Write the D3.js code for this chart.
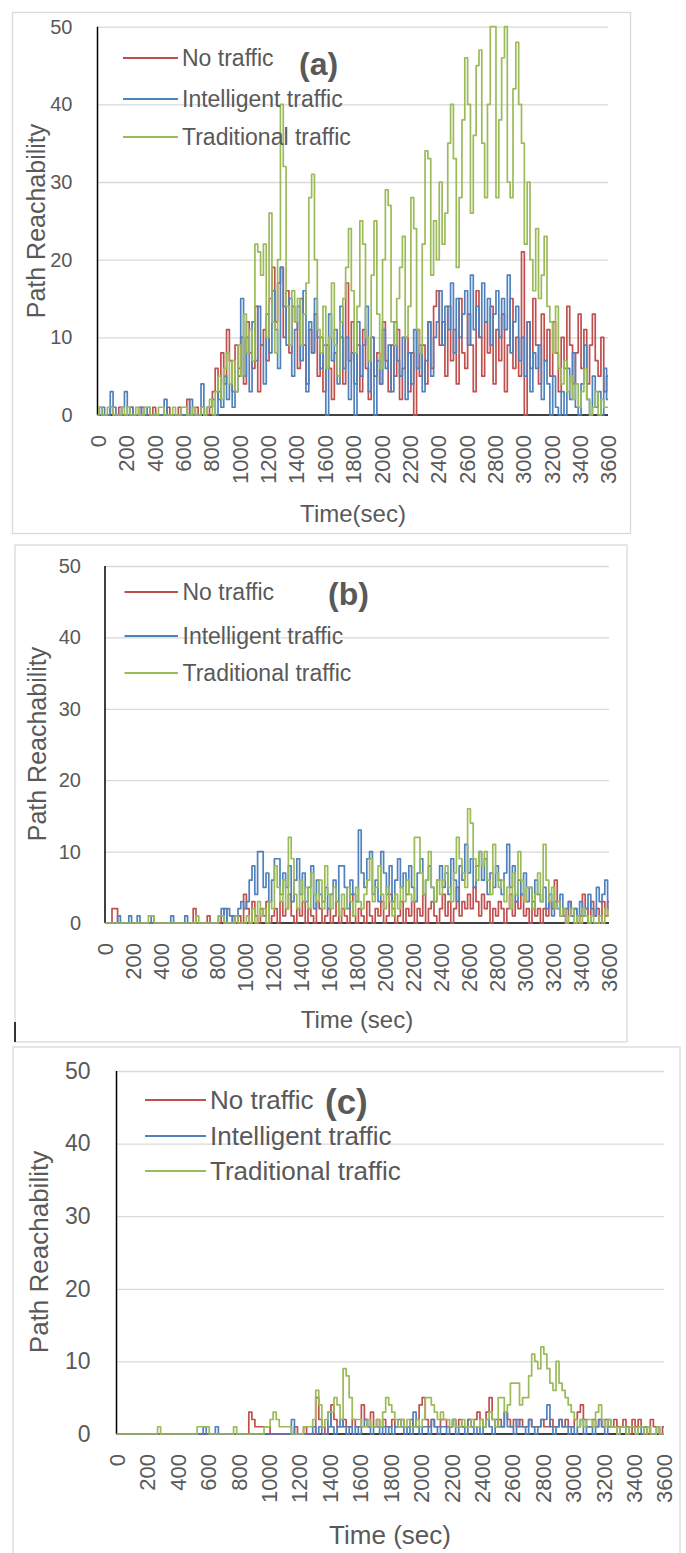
<!DOCTYPE html>
<html>
<head>
<meta charset="utf-8">
<script src="https://cdn.jsdelivr.net/npm/d3@7"></script>
<style>
  body { margin: 0; background: #fff; }
  svg text { font-family: "Liberation Sans", Arial, sans-serif; fill: #595959; }
</style>
</head>
<body>
<svg width="686" height="1553"></svg>
<script>
// tick labels
var timeTicks = [0, 200, 400, 600, 800, 1000, 1200, 1400, 1600, 1800, 2000,
                 2200, 2400, 2600, 2800, 3000, 3200, 3400, 3600];
var yTicks = [0, 10, 20, 30, 40, 50];
var seriesNames = ["No traffic", "Intelligent traffic", "Traditional traffic"];
var seriesColors = ["#c0504d", "#4f81bd", "#9bbb59"];

// sample times, one value every 20 s
var times = d3.range(0, 3601, 20);

// (a)
var noTrafficA = [0,1,0,0,0,1,0,0,1,0, 0,0,1,0,0,0,1,0,0,0, 1,0,0,0,0,1,0,0,0,1, 0,0,2,0,0,1,0,1,0,0,
  1,3,6,2,8,4,11,7,3,9, 5,10,4,12,8,6,14,3,9,11, 7,15,19,12,17,19,10,16,8,14, 12,6,15,9,4,11,8,13,5,10,
  3,9,6,2,8,5,10,4,17,7, 12,4,9,3,11,6,2,10,5,8, 4,12,7,3,9,5,11,2,6,10, 3,8,0,11,5,9,4,12,6,14,
  16,9,12,5,14,7,11,4,15,8, 6,13,9,3,16,10,5,12,8,14, 4,11,7,13,3,9,15,6,10,5, 21,0,12,6,15,9,4,13,7,11,
  5,12,8,3,10,6,14,9,4,8, 13,6,11,4,9,13,7,5,10,3,5];
var intelligentA = [0,0,1,0,0,3,1,0,0,1, 3,0,1,0,0,1,0,0,1,0, 0,0,0,0,2,0,0,0,0,0, 0,0,0,2,0,0,0,4,0,1,
  1,2,0,3,1,5,2,4,1,3, 6,15,5,10,3,12,7,14,9,4, 13,8,16,11,6,19,14,9,15,5, 11,14,7,16,3,12,8,15,10,6,
  9,0,13,7,11,4,14,6,10,2, 8,0,12,5,9,14,3,10,0,7, 4,11,6,9,3,12,7,5,10,2, 8,4,11,6,9,3,7,12,5,10,
  12,16,9,14,11,17,8,15,10,13, 16,9,18,11,14,10,17,12,15,9, 13,16,10,15,11,18,8,12,14,7, 10,5,12,3,8,6,9,2,7,4,
  0,5,1,0,3,0,6,2,8,1, 0,4,9,2,0,5,1,3,0,6,2];
var traditionalA = [0,1,0,0,1,1,0,0,0,1, 0,1,0,0,1,0,0,1,1,0, 0,0,1,1,0,0,0,1,0,0, 1,1,0,0,1,0,0,1,0,1,
  2,0,3,5,2,6,8,4,7,3, 9,5,13,8,11,7,22,21,18,22, 10,26,12,8,20,40,32,14,9,16, 12,15,9,13,17,28,31,20,11,8,
  14,6,10,17,9,5,12,15,19,24, 16,8,14,25,22,10,7,18,25,13, 6,20,29,27,12,9,15,19,23,10, 14,28,24,11,8,22,34,33,18,25,
  20,30,22,26,35,40,33,19,28,38, 46,40,26,36,45,47,35,28,40,50, 50,28,38,46,50,30,28,42,48,40, 35,22,30,20,16,24,15,18,23,14,
  12,8,14,6,4,7,3,5,2,4, 1,3,6,2,0,1,3,0,2,1,1];

// (b)
var noTrafficB = [0,0,0,2,2,0,0,0,0,0, 0,0,0,0,0,0,0,0,0,0, 0,0,0,0,0,0,0,0,0,0, 0,0,2,0,0,0,0,1,0,0,
  0,0,1,2,0,0,1,0,1,0, 4,2,0,3,1,0,2,1,3,0, 1,2,0,3,1,2,4,1,0,2, 1,3,0,2,1,0,3,2,0,1,
  2,0,1,3,0,2,1,0,4,1, 0,2,1,0,3,1,0,2,1,3, 0,1,4,2,0,1,3,0,2,1, 3,0,2,1,4,0,2,3,1,0,
  2,4,1,3,0,2,5,1,3,2, 4,2,5,3,1,4,2,3,0,2, 1,3,2,0,2,4,1,3,2,4, 1,2,0,3,1,2,0,2,1,3,
  2,6,3,1,2,0,3,1,2,0, 1,4,2,0,3,1,2,0,3,1,3];
var intelligentB = [0,0,0,0,0,1,0,0,0,1, 0,0,1,0,0,0,0,1,0,0, 0,0,0,0,1,0,0,0,0,1, 0,0,0,0,0,0,0,0,0,0,
  0,1,2,0,2,1,0,1,2,3, 2,3,6,8,4,10,10,5,7,3, 6,9,9,4,7,5,8,3,6,9, 4,7,3,5,8,2,6,4,3,5,
  2,4,6,3,8,8,5,2,6,4, 3,13,7,5,9,10,4,6,3,10, 7,4,8,3,6,9,5,7,4,8, 5,3,7,9,4,6,8,5,3,6,
  8,5,7,4,9,6,3,8,6,11, 7,9,5,8,10,6,9,4,7,5, 8,6,4,7,11,5,8,3,6,4, 7,3,5,2,6,4,3,5,2,4,
  1,3,2,4,1,2,3,1,2,1, 3,1,2,4,2,1,5,3,4,6,2];
var traditionalB = [0,0,0,0,0,0,0,0,0,0, 0,0,0,0,0,0,1,1,0,0, 0,0,0,0,0,0,0,0,0,0, 0,0,0,1,0,0,0,0,0,0,
  0,1,1,0,0,0,0,1,0,0, 0,1,0,2,0,3,1,2,0,3, 2,8,5,3,6,2,12,9,4,2, 6,3,5,2,7,4,3,6,2,8,
  4,2,5,3,1,4,2,5,3,1, 5,3,2,4,6,9,3,5,8,4, 2,5,3,1,4,2,5,3,6,4, 3,12,12,7,4,6,10,5,3,6,
  4,6,8,5,3,7,12,9,7,5, 16,14,9,6,10,8,10,6,4,11, 7,5,6,3,5,2,7,4,10,6, 3,5,5,2,4,7,3,11,6,3,
  5,2,3,1,2,0,1,2,0,1, 0,2,1,0,1,0,0,1,0,2,1];

// (c)
var noTrafficC = [0,0,0,0,0,0,0,0,0,0, 0,0,0,0,0,0,0,0,0,0, 0,0,0,0,0,0,0,0,0,0, 0,0,0,0,0,0,0,0,0,0,
  0,0,0,0,3,2,1,1,1,1, 1,0,0,0,0,0,0,0,0,1, 0,0,1,0,0,0,5,2,1,0, 1,4,2,1,1,2,1,1,2,1,
  1,4,2,1,3,1,2,1,2,1, 1,2,1,1,2,1,1,2,1,2, 4,5,2,1,2,1,1,2,2,1, 1,2,1,2,1,1,2,1,2,3,
  2,1,3,5,2,1,2,1,3,2, 1,2,1,2,1,1,2,1,1,1, 2,1,1,2,1,1,2,1,2,1, 1,2,3,4,2,1,1,2,1,2,
  1,2,1,1,2,1,1,2,1,0, 2,1,2,1,1,0,2,1,1,0,1];
var intelligentC = [0,0,0,0,0,0,0,0,0,0, 0,0,0,0,0,0,0,0,0,0, 0,0,0,0,0,0,0,0,0,1, 0,0,0,1,0,0,0,0,0,0,
  0,0,0,0,0,0,0,0,0,0, 0,0,0,0,0,0,0,0,2,0, 0,0,0,0,0,1,0,1,0,0, 3,1,0,1,2,1,0,1,0,1,
  0,1,2,1,0,1,1,0,1,0, 1,0,1,2,1,0,1,0,3,1, 0,1,1,0,2,1,0,1,1,0, 1,2,0,1,1,0,2,1,0,1,
  0,1,2,1,0,2,1,1,3,1, 1,0,2,1,1,0,2,1,0,1, 2,2,4,1,0,1,2,1,1,0, 1,0,1,2,0,1,1,0,1,2,
  1,0,2,1,1,0,1,1,0,1, 1,0,1,0,1,1,0,0,1,0,0];
var traditionalC = [0,0,0,0,0,0,0,0,0,0, 0,0,0,0,1,0,0,0,0,0, 0,0,0,0,0,0,0,1,1,1, 1,0,0,0,0,0,0,0,0,1,
  0,0,0,0,0,0,0,0,0,1, 1,2,3,2,1,1,1,1,0,0, 0,0,1,1,1,2,6,4,1,2, 3,3,5,4,2,9,8,5,2,2,
  2,1,1,2,1,1,2,1,3,5, 4,3,2,1,2,1,2,1,1,2, 1,2,5,5,4,3,2,3,2,2, 1,2,1,1,2,1,1,2,1,1,
  2,1,2,3,2,1,5,5,3,4, 7,7,7,4,5,5,8,11,10,9, 12,11,9,7,6,10,7,6,5,4, 3,2,1,2,1,2,2,1,3,4,
  2,1,2,1,1,0,1,1,0,1, 1,0,1,1,0,1,0,0,1,0,0];

// layout of the three stacked charts
var panels = [
  {tag: "(a)", series: [noTrafficA, intelligentA, traditionalA], xTitle: "Time(sec)",
   box: [12.5, 12.5, 618, 521], plot: {l: 97.5, r: 608, t: 26.7, b: 415},
   leg: {x1: 123, x2: 178, tx: 182, ys: [58, 99, 137], size: 23},
   tagPos: [299, 63], tagSize: 32, yTick: 20, yPad: 25, xTick: 22,
   yTitlePos: [45, 221], yTitleSize: 25, xTitlePos: [353, 522], xTitleSize: 24},
  {tag: "(b)", series: [noTrafficB, intelligentB, traditionalB], xTitle: "Time (sec)",
   box: [15, 545, 612, 497], plot: {l: 105, r: 609, t: 566, b: 923},
   leg: {x1: 124.5, x2: 178, tx: 182.5, ys: [592, 636, 673], size: 23},
   tagPos: [328, 593], tagSize: 32, yTick: 20, yPad: 24, xTick: 22,
   yTitlePos: [46, 744], yTitleSize: 25, xTitlePos: [357, 1028], xTitleSize: 24},
  {tag: "(c)", series: [noTrafficC, intelligentC, traditionalC], xTitle: "Time (sec)",
   box: [13, 1047, 667, 520], plot: {l: 116.5, r: 664, t: 1071, b: 1434},
   leg: {x1: 145, x2: 206, tx: 210, ys: [1100, 1136, 1171], size: 26},
   tagPos: [325, 1101], tagSize: 35, yTick: 23, yPad: 26, xTick: 22,
   yTitlePos: [48, 1252], yTitleSize: 26, xTitlePos: [390, 1544], xTitleSize: 26}
];

var svg = d3.select("svg");

panels.forEach(function(p) {
  var g = svg.append("g");

  // frame around each chart
  g.append("rect")
    .attr("x", p.box[0]).attr("y", p.box[1])
    .attr("width", p.box[2]).attr("height", p.box[3])
    .attr("fill", "none").attr("stroke", "#d9d9d9").attr("stroke-width", 1.3);

  var x = d3.scaleLinear().domain([0, 3600]).range([p.plot.l, p.plot.r]);
  var y = d3.scaleLinear().domain([0, 50]).range([p.plot.b, p.plot.t]);

  // gridlines
  g.append("g")
    .attr("transform", "translate(" + p.plot.l + ",0)")
    .call(d3.axisLeft(y).tickValues(yTicks.slice(1)).tickSize(-(p.plot.r - p.plot.l)).tickFormat(""))
    .call(s => s.select(".domain").remove())
    .selectAll("line").attr("stroke", "#d9d9d9").attr("stroke-width", 1.3);

  // y axis labels
  g.append("g")
    .attr("transform", "translate(" + p.plot.l + ",0)")
    .call(d3.axisLeft(y).tickValues(yTicks).tickSize(0).tickPadding(p.yPad))
    .call(s => s.select(".domain").remove())
    .selectAll("text")
    .style("font-size", p.yTick + "px");

  // x axis labels, rotated
  g.append("g")
    .attr("transform", "translate(0," + p.plot.b + ")")
    .call(d3.axisBottom(x).tickValues(timeTicks).tickSize(0).tickFormat(d3.format("d")))
    .call(s => s.select(".domain").remove())
    .selectAll("text")
    .attr("transform", "rotate(-90)")
    .attr("x", -20).attr("y", 0).attr("dy", "0.36em")
    .attr("text-anchor", "end")
    .style("font-size", p.xTick + "px");

  // black axis lines
  g.append("line")
    .attr("x1", p.plot.l).attr("x2", p.plot.r)
    .attr("y1", y(0)).attr("y2", y(0))
    .attr("stroke", "#000").attr("stroke-width", 1.5);
  g.append("line")
    .attr("x1", p.plot.l).attr("x2", p.plot.l)
    .attr("y1", y(50)).attr("y2", y(0))
    .attr("stroke", "#000").attr("stroke-width", 1.5);

  // the series (dense integer samples look blocky in the original)
  var line = d3.line()
    .curve(d3.curveStep)
    .x((d, i) => x(times[i]))
    .y(d => y(d));
  p.series.forEach(function(s, k) {
    g.append("path")
      .datum(s)
      .attr("d", line)
      .attr("fill", "none")
      .attr("stroke", seriesColors[k])
      .attr("stroke-width", 1.7)
      .attr("stroke-linejoin", "round");
  });

  // legend
  seriesNames.forEach(function(name, k) {
    g.append("line")
      .attr("x1", p.leg.x1).attr("x2", p.leg.x2)
      .attr("y1", p.leg.ys[k]).attr("y2", p.leg.ys[k])
      .attr("stroke", seriesColors[k]).attr("stroke-width", 2);
    g.append("text")
      .attr("x", p.leg.tx).attr("y", p.leg.ys[k])
      .attr("dy", "0.36em")
      .style("font-size", p.leg.size + "px")
      .text(name);
  });

  g.append("text")
    .attr("x", p.tagPos[0]).attr("y", p.tagPos[1])
    .attr("dy", "0.36em")
    .style("font-size", p.tagSize + "px")
    .style("font-weight", "bold")
    .text(p.tag);

  // axis titles
  g.append("text")
    .attr("transform", "translate(" + p.yTitlePos[0] + "," + p.yTitlePos[1] + ") rotate(-90)")
    .attr("text-anchor", "middle")
    .style("font-size", p.yTitleSize + "px")
    .text("Path Reachability");

  g.append("text")
    .attr("x", p.xTitlePos[0]).attr("y", p.xTitlePos[1])
    .attr("text-anchor", "middle")
    .style("font-size", p.xTitleSize + "px")
    .text(p.xTitle);
});

// small dark mark at the bottom left of chart (b)
svg.append("line")
  .attr("x1", 15).attr("x2", 15).attr("y1", 1022).attr("y2", 1042)
  .attr("stroke", "#333").attr("stroke-width", 2);
</script>
</body>
</html>
